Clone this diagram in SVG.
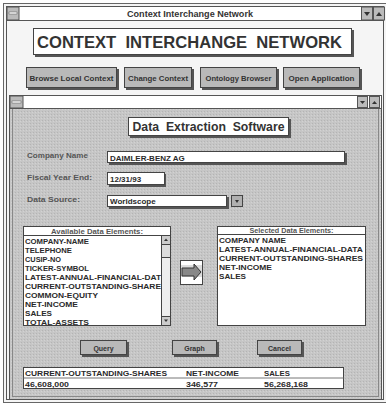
<svg xmlns="http://www.w3.org/2000/svg" width="386" height="404" viewBox="0 0 386 404">
<defs>
<style>
.t{font-family:"Liberation Sans",Arial,sans-serif;font-weight:bold;fill:#333}
.frame{fill:none;stroke:#555;stroke-width:1}
.btn{fill:#b9b9b9;stroke:#444;stroke-width:1}
.shadow{fill:#555}
.field{fill:#fff;stroke:#444;stroke-width:1}
.lst{font-family:"Liberation Sans",Arial,sans-serif;font-weight:bold;fill:#2a2a2a;font-size:8px}
.lbl{font-family:"Liberation Sans",Arial,sans-serif;font-weight:bold;fill:#555;font-size:7.5px}
</style>
<pattern id="tex" width="3" height="3" patternUnits="userSpaceOnUse">
<rect width="3" height="3" fill="#c6c6c6"/>
<rect x="0" y="0" width="1" height="1" fill="#b4b4b4"/>
<rect x="2" y="1" width="1" height="1" fill="#d2d2d2"/>
</pattern>
</defs>

<g id="outer-window">
<rect x="3.5" y="3.5" width="383" height="399" fill="#f5f5f5" stroke="#666"/>
<rect x="6.5" y="6.5" width="377" height="393" class="frame" stroke="#888"/>
<rect x="6.5" y="6.5" width="377" height="14" fill="#fff" stroke="#555"/>
<rect x="7" y="7" width="12" height="13" fill="#bbb" stroke="#555"/>
<rect x="9" y="12" width="8" height="2" fill="#fff" stroke="#555" stroke-width="0.5"/>
<rect x="361.5" y="7" width="11" height="13" fill="#bbb" stroke="#555"/>
<rect x="373.5" y="7" width="11" height="13" fill="#bbb" stroke="#555"/>
<path d="M364 12 L370 12 L367 16 Z" fill="#333"/>
<path d="M376 16 L382 16 L379 12 Z" fill="#333"/>
<text class="t" x="190" y="17" font-size="9" text-anchor="middle" textLength="126" lengthAdjust="spacingAndGlyphs" fill="#444">Context Interchange Network</text>
</g>

<g id="main-title">
<rect x="35" y="30" width="319" height="27" class="shadow"/>
<rect x="33.5" y="28.5" width="318" height="26" fill="#fff" stroke="#444"/>
<text class="t" x="37" y="48" font-size="16.5" textLength="305" lengthAdjust="spacingAndGlyphs" fill="#444" xml:space="preserve">CONTEXT  INTERCHANGE  NETWORK</text>
</g>

<g id="btn-browse">
<rect x="28" y="69" width="91" height="21" class="shadow"/>
<rect x="26.5" y="67.5" width="90" height="20" class="btn"/>
<text class="t" x="71.5" y="80.5" font-size="7" text-anchor="middle" textLength="84" lengthAdjust="spacingAndGlyphs">Browse Local Context</text>
</g>
<g id="btn-change">
<rect x="126" y="69" width="68" height="21" class="shadow"/>
<rect x="124.5" y="67.5" width="67" height="20" class="btn"/>
<text class="t" x="158" y="80.5" font-size="7" text-anchor="middle" textLength="60" lengthAdjust="spacingAndGlyphs">Change Context</text>
</g>
<g id="btn-ontology">
<rect x="202" y="69" width="77" height="21" class="shadow"/>
<rect x="200.5" y="67.5" width="76" height="20" class="btn"/>
<text class="t" x="238.5" y="80.5" font-size="7" text-anchor="middle" textLength="66" lengthAdjust="spacingAndGlyphs">Ontology Browser</text>
</g>
<g id="btn-open">
<rect x="285" y="69" width="77" height="21" class="shadow"/>
<rect x="283.5" y="67.5" width="76" height="20" class="btn"/>
<text class="t" x="321.5" y="80.5" font-size="7" text-anchor="middle" textLength="66" lengthAdjust="spacingAndGlyphs">Open Application</text>
</g>

<g id="inner-window">
<rect x="9.5" y="95.5" width="372" height="304" fill="url(#tex)" stroke="#555"/>
<rect x="12.5" y="108.5" width="366" height="288" fill="none" stroke="#888"/>
<rect x="9.5" y="95.5" width="372" height="13" fill="#fff" stroke="#555"/>
<rect x="10" y="96" width="13" height="12" fill="#bbb" stroke="#555"/>
<rect x="12" y="101" width="9" height="2" fill="#fff" stroke="#555" stroke-width="0.5"/>
<rect x="357.5" y="96.5" width="10" height="11" fill="#bbb" stroke="#555"/>
<rect x="369.5" y="96.5" width="10" height="11" fill="#bbb" stroke="#555"/>
<path d="M360 101 L365 101 L362.5 104 Z" fill="#333"/>
<path d="M372 104 L377 104 L374.5 101 Z" fill="#333"/>
</g>

<g id="subtitle">
<rect x="130" y="119" width="161" height="19" class="shadow"/>
<rect x="128.5" y="117.5" width="160" height="18" fill="#fff" stroke="#444"/>
<text class="t" x="208.5" y="131" font-size="12" text-anchor="middle" textLength="152" lengthAdjust="spacingAndGlyphs" fill="#3a3a3a" xml:space="preserve">Data  Extraction  Software</text>
</g>

<g id="company-name">
<text class="lbl" x="27" y="158" textLength="61" lengthAdjust="spacingAndGlyphs">Company Name</text>
<rect x="109" y="153" width="238" height="12" class="shadow"/>
<rect x="107.5" y="151.5" width="237" height="11" class="field"/>
<text class="lst" x="110" y="160.5">DAIMLER-BENZ AG</text>
</g>

<g id="fiscal-year">
<text class="lbl" x="27" y="179.5" textLength="65" lengthAdjust="spacingAndGlyphs">Fiscal Year End:</text>
<rect x="109" y="174" width="57" height="13" class="shadow"/>
<rect x="107.5" y="172.5" width="57" height="12" class="field"/>
<text class="lst" x="110" y="182">12/31/93</text>
</g>

<g id="data-source">
<text class="lbl" x="27" y="202" textLength="53" lengthAdjust="spacingAndGlyphs">Data Source:</text>
<rect x="109" y="197" width="120" height="12" class="shadow"/>
<rect x="107.5" y="195.5" width="119" height="11" class="field"/>
<text class="lst" x="110" y="204">Worldscope</text>
<rect x="231.5" y="195.5" width="11" height="11" fill="#b0b0b0" stroke="#444"/>
<path d="M235 200 L239 200 L237 203 Z" fill="#333"/>
</g>

<g id="available-list">
<rect x="23.5" y="226.5" width="147" height="9" fill="#fff" stroke="#444"/>
<text class="lbl" x="97" y="233.5" text-anchor="middle" font-size="7" textLength="92" lengthAdjust="spacingAndGlyphs" fill="#333">Available Data Elements:</text>
<rect x="23.5" y="235.5" width="147" height="90" fill="#fff" stroke="#444"/>
<rect x="161.5" y="235.5" width="9" height="90" fill="#eee" stroke="#444"/>
<rect x="161.5" y="235.5" width="9" height="9" fill="#ccc" stroke="#444"/>
<rect x="161.5" y="244.5" width="9" height="13" fill="#ddd" stroke="#444"/>
<rect x="161.5" y="316.5" width="9" height="9" fill="#ccc" stroke="#444"/>
<path d="M164 241 L168 241 L166 238.5 Z" fill="#333"/>
<path d="M164 319.5 L168 319.5 L166 322 Z" fill="#333"/>
<text class="lst" x="25" y="244" textLength="64" lengthAdjust="spacingAndGlyphs">COMPANY-NAME</text>
<text class="lst" x="25" y="253" textLength="47" lengthAdjust="spacingAndGlyphs">TELEPHONE</text>
<text class="lst" x="25" y="262" textLength="36" lengthAdjust="spacingAndGlyphs">CUSIP-NO</text>
<text class="lst" x="25" y="271" textLength="64" lengthAdjust="spacingAndGlyphs">TICKER-SYMBOL</text>
<text class="lst" x="25" y="280" textLength="136" lengthAdjust="spacingAndGlyphs">LATEST-ANNUAL-FINANCIAL-DAT</text>
<text class="lst" x="25" y="289" textLength="136" lengthAdjust="spacingAndGlyphs">CURRENT-OUTSTANDING-SHARE</text>
<text class="lst" x="25" y="298" textLength="73" lengthAdjust="spacingAndGlyphs">COMMON-EQUITY</text>
<text class="lst" x="25" y="307" textLength="53" lengthAdjust="spacingAndGlyphs">NET-INCOME</text>
<text class="lst" x="25" y="316" textLength="27" lengthAdjust="spacingAndGlyphs">SALES</text>
<text class="lst" x="25" y="325" textLength="64" lengthAdjust="spacingAndGlyphs">TOTAL-ASSETS</text>
</g>

<g id="move-button">
<rect x="180.5" y="260.5" width="22" height="24" fill="#fff" stroke="#444"/>
<rect x="181" y="265" width="21" height="12" fill="#ddd"/>
<path d="M182 268 L194 268 L194 264 L201 272 L194 280 L194 276 L182 276 Z" fill="#888" stroke="#333" stroke-width="1"/>
</g>

<g id="selected-list">
<rect x="217.5" y="226.5" width="148" height="8" fill="#fff" stroke="#444"/>
<text class="lbl" x="291.5" y="233" text-anchor="middle" font-size="7" textLength="84" lengthAdjust="spacingAndGlyphs" fill="#333">Selected Data Elements:</text>
<rect x="217.5" y="234.5" width="148" height="91" fill="#fff" stroke="#444"/>
<text class="lst" x="219" y="243" textLength="67" lengthAdjust="spacingAndGlyphs">COMPANY NAME</text>
<text class="lst" x="219" y="252" textLength="144" lengthAdjust="spacingAndGlyphs">LATEST-ANNUAL-FINANCIAL-DATA</text>
<text class="lst" x="219" y="261" textLength="144" lengthAdjust="spacingAndGlyphs">CURRENT-OUTSTANDING-SHARES</text>
<text class="lst" x="219" y="270" textLength="53" lengthAdjust="spacingAndGlyphs">NET-INCOME</text>
<text class="lst" x="219" y="279" textLength="27" lengthAdjust="spacingAndGlyphs">SALES</text>
</g>

<g id="btn-query">
<rect x="82" y="342" width="47" height="15" class="shadow"/>
<rect x="80.5" y="340.5" width="46" height="14" class="btn"/>
<text class="t" x="103.5" y="350.5" font-size="7" text-anchor="middle">Query</text>
</g>
<g id="btn-graph">
<rect x="174" y="342" width="45" height="15" class="shadow"/>
<rect x="172.5" y="340.5" width="44" height="14" class="btn"/>
<text class="t" x="194.5" y="350.5" font-size="7" text-anchor="middle">Graph</text>
</g>
<g id="btn-cancel">
<rect x="259" y="342" width="45" height="15" class="shadow"/>
<rect x="257.5" y="340.5" width="44" height="14" class="btn"/>
<text class="t" x="279.5" y="350.5" font-size="7" text-anchor="middle">Cancel</text>
</g>

<g id="result-table">
<rect x="23.5" y="367.5" width="320" height="21" fill="#fff" stroke="#444"/>
<line x1="23.5" y1="378" x2="343.5" y2="378" stroke="#777"/>
<text class="lst" x="25" y="376" textLength="142" lengthAdjust="spacingAndGlyphs">CURRENT-OUTSTANDING-SHARES</text>
<text class="lst" x="186" y="376" textLength="53" lengthAdjust="spacingAndGlyphs">NET-INCOME</text>
<text class="lst" x="264" y="376" textLength="26" lengthAdjust="spacingAndGlyphs">SALES</text>
<text class="lst" x="25" y="386.5" font-weight="normal" textLength="44" lengthAdjust="spacingAndGlyphs">46,608,000</text>
<text class="lst" x="186" y="386.5" font-weight="normal" textLength="32" lengthAdjust="spacingAndGlyphs">346,577</text>
<text class="lst" x="264" y="386.5" font-weight="normal" textLength="44" lengthAdjust="spacingAndGlyphs">56,268,168</text>
</g>
</svg>
